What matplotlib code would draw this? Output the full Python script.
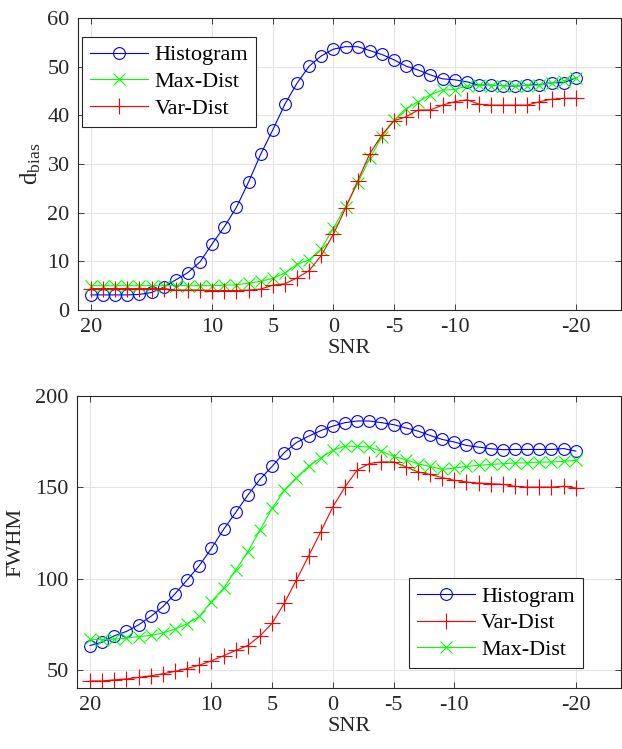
import matplotlib
matplotlib.use("Agg")
import matplotlib.pyplot as plt
import numpy as np

# SNR values, 20 down to -20 in 1 dB steps
snr = np.arange(20, -21, -1)
snr_ticks = [20, 10, 5, 0, -5, -10, -20]

# top panel: d_bias
dbias_hist = [3.1, 3.1, 3.1, 3.1, 3.2, 3.6, 4.7, 6.2, 7.7, 9.9,
              13.6, 17.1, 21.1, 26.3, 32.0, 37.0, 42.3, 46.6, 50.1, 52.2,
              53.6, 54.1, 54.1, 53.3, 52.5, 51.4, 50.1, 49.3, 48.3, 47.5,
              47.3, 46.9, 46.2, 46.2, 46.1, 46.0, 46.2, 46.3, 46.7, 46.7, 47.7]
dbias_max = [5.0, 5.0, 5.0, 5.0, 5.0, 5.0, 5.0, 5.0, 5.0, 5.0,
             5.0, 5.1, 5.2, 5.5, 5.9, 6.5, 7.6, 9.4, 10.3, 12.6,
             16.8, 21.2, 26.0, 31.2, 35.6, 39.0, 41.4, 42.8, 44.2, 45.2,
             45.3, 46.0, 46.2, 46.1, 46.1, 46.1, 46.1, 46.2, 46.7, 47.1, 47.7]
dbias_var = [4.4, 4.4, 4.4, 4.4, 4.4, 4.4, 4.4, 4.1, 4.1, 4.1,
             4.0, 4.0, 4.0, 4.1, 4.3, 5.1, 5.4, 6.6, 8.1, 11.2,
             15.6, 20.9, 26.5, 32.1, 36.0, 38.9, 39.7, 41.1, 41.1, 42.1,
             42.8, 43.2, 42.3, 42.1, 42.1, 42.1, 42.1, 42.8, 43.3, 43.5, 43.5]

# bottom panel: FWHM
fwhm_hist = [63.3, 65.1, 68.6, 71.0, 74.6, 79.2, 84.6, 91.6, 99.2, 107.1,
             116.5, 126.9, 136.2, 145.7, 154.4, 161.5, 169.0, 174.5, 178.0, 181.0,
             183.5, 185.4, 186.3, 186.3, 185.4, 184.3, 182.5, 180.8, 178.4, 176.2,
             174.8, 172.9, 172.0, 171.1, 170.6, 170.7, 170.7, 170.7, 170.7, 171.2, 169.8]
fwhm_var = [43.9, 43.9, 44.5, 45.0, 45.8, 46.7, 47.8, 49.1, 50.7, 52.5,
            54.9, 57.7, 60.6, 63.3, 68.6, 75.5, 86.5, 99.2, 112.3, 125.6,
            139.3, 150.2, 159.4, 163.0, 163.9, 163.9, 161.2, 158.4, 157.0, 155.3,
            153.8, 152.9, 152.3, 152.0, 151.6, 150.5, 150.1, 150.1, 150.1, 150.5, 149.6]
fwhm_max = [66.8, 66.4, 66.8, 67.3, 68.2, 68.8, 70.1, 72.3, 75.2, 79.2,
            87.4, 94.7, 104.7, 114.7, 126.6, 138.4, 148.4, 155.3, 161.5, 166.2,
            170.2, 172.6, 172.4, 172.0, 169.7, 166.9, 165.1, 162.9, 161.4, 159.8,
            160.5, 161.4, 162.0, 162.5, 162.9, 163.3, 163.4, 163.8, 163.8, 164.2, 164.7]

plt.rcParams['font.family'] = ['Liberation Serif', 'DejaVu Serif']
plt.rcParams['mathtext.fontset'] = 'custom'
plt.rcParams['mathtext.rm'] = 'Liberation Serif'
plt.rcParams['mathtext.it'] = 'Liberation Serif:italic'
plt.rcParams['font.size'] = 16

AX_COL = '#262626'
GRID_COL = '#e3e3e3'

fig = plt.figure(figsize=(6.22, 7.49), dpi=100)
ax1 = fig.add_axes([0.1254, 0.5861, 0.8725, 0.3899])
ax2 = fig.add_axes([0.1238, 0.0814, 0.8741, 0.3899])

style = dict(linewidth=0.8, markerfacecolor='none', markeredgewidth=0.8)
leg_opts = dict(fancybox=False, edgecolor=AX_COL, framealpha=1, numpoints=1,
                handlelength=2.6, handletextpad=0.3, borderpad=0.35,
                labelspacing=0.28, borderaxespad=0, fontsize=16)


def setup(ax):
    ax.set_xlim(21.07, -23.7)
    ax.set_xticks(snr_ticks)
    ax.set_xticklabels([str(t) for t in snr_ticks])
    ax.grid(True, color=GRID_COL, linewidth=0.8)
    ax.set_axisbelow(True)
    ax.tick_params(direction='in', length=4, width=0.6, colors=AX_COL,
                   top=True, right=True, labelsize=16, pad=6)
    for s in ax.spines.values():
        s.set_color(AX_COL)
        s.set_linewidth(0.8)
    ax.set_xlabel('SNR', color=AX_COL, fontsize=16, labelpad=1)


# top panel
ax1.plot(snr, dbias_hist, color='b', marker='o', markersize=8.5, label='Histogram', **style)
ax1.plot(snr, dbias_max, color='#00ff00', marker='x', markersize=8.5, label='Max-Dist', **style)
ax1.plot(snr, dbias_var, color='r', marker='+', markersize=11, label='Var-Dist', **style)
setup(ax1)
ax1.set_ylim(0, 60)
ax1.set_yticks(np.arange(0, 61, 10))
ax1.set_ylabel(r'd$_{\mathrm{bias}}$', color=AX_COL, fontsize=18, labelpad=3)
leg1 = ax1.legend(loc='upper left', bbox_to_anchor=(0.008, 0.935), **leg_opts)
leg1.get_frame().set_linewidth(0.8)

# bottom panel
ax2.plot(snr, fwhm_hist, color='b', marker='o', markersize=8.5, label='Histogram', **style)
ax2.plot(snr, fwhm_var, color='r', marker='+', markersize=11, label='Var-Dist', **style)
ax2.plot(snr, fwhm_max, color='#00ff00', marker='x', markersize=8.5, label='Max-Dist', **style)
setup(ax2)
ax2.set_ylim(40, 200)
ax2.set_yticks([50, 100, 150, 200])
ax2.set_ylabel('FWHM', color=AX_COL, fontsize=16, labelpad=7)
leg2 = ax2.legend(loc='lower right', bbox_to_anchor=(0.93, 0.0685), **leg_opts)
leg2.get_frame().set_linewidth(0.8)

fig.savefig('out.png', dpi=100)
